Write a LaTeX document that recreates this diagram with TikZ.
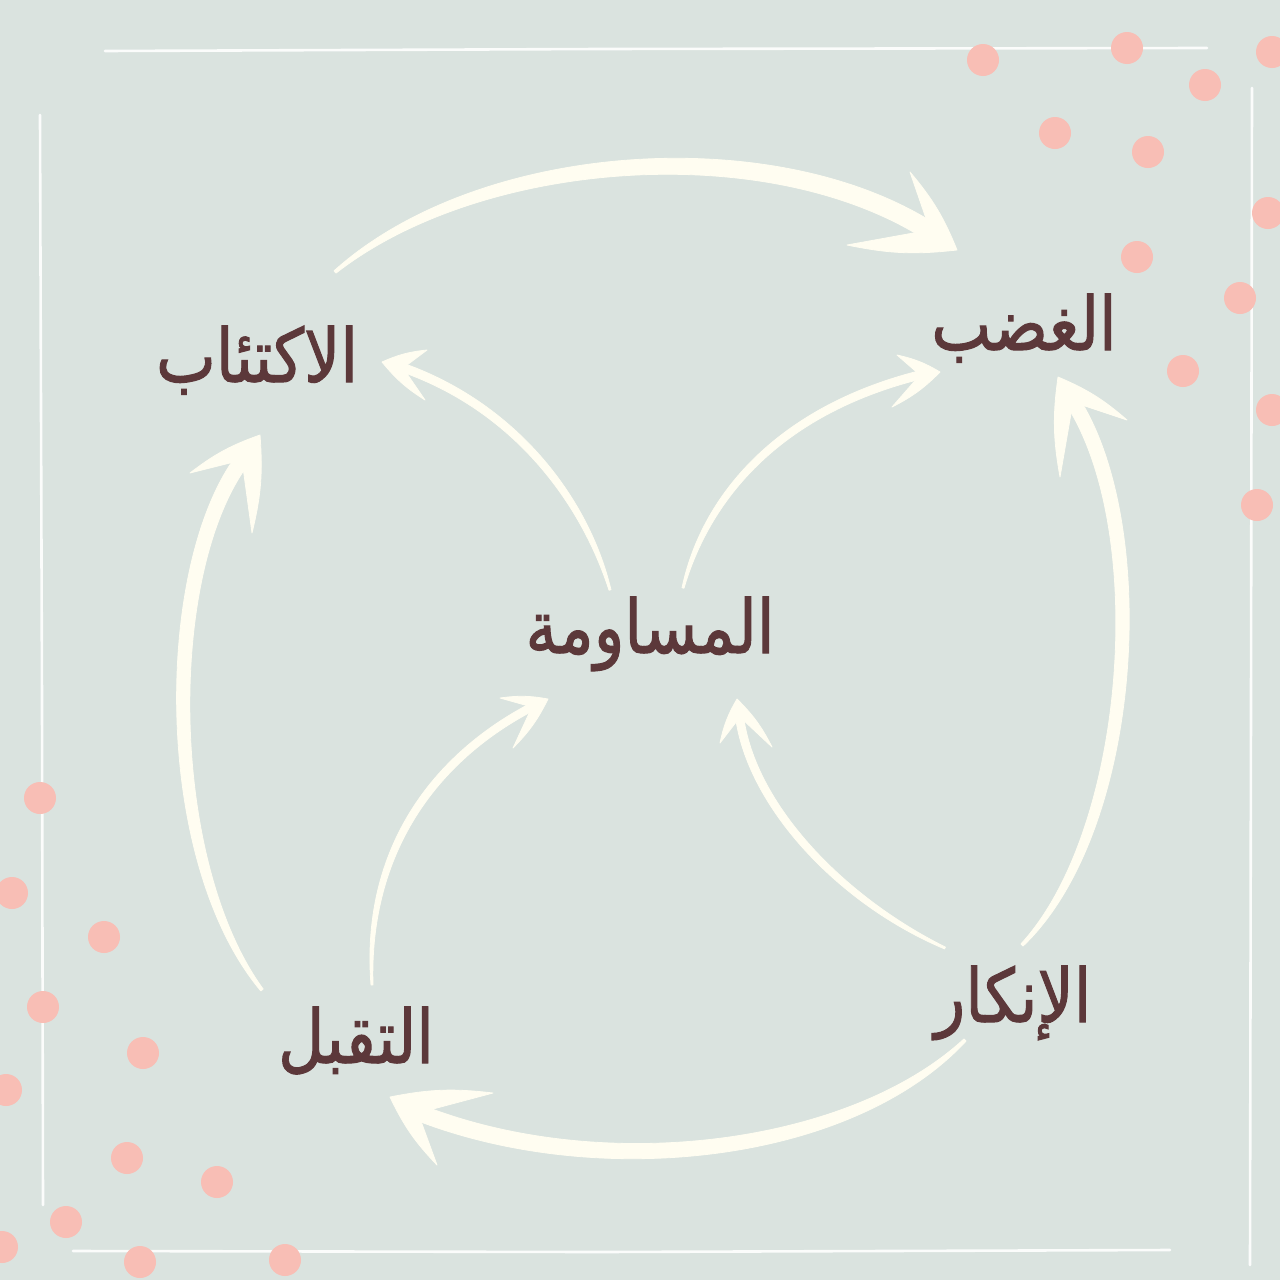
\documentclass[tikz,border=0pt]{standalone}
\usepackage{fontspec}
\usetikzlibrary{calc}
\newfontfamily\arabicfont[Script=Arabic,FakeBold=1.5]{DejaVu Sans}
\TeXXeTstate=1
\definecolor{bgc}{RGB}{218,227,223}
\definecolor{dotc}{RGB}{248,190,181}
\definecolor{txtc}{RGB}{92,56,58}
\definecolor{arrc}{RGB}{255,253,241}
\tikzset{
  lbl/.style={text=txtc, font=\arabicfont\fontsize{74}{84}\selectfont, anchor=base, inner sep=0pt},
  dotp/.style={fill=dotc},
  arrowfill/.style={fill=arrc, draw=arrc, line width=0.8pt, line join=round},
  frame/.style={draw=white, line width=2.6pt, line cap=round, opacity=0.9},
}
\newcommand\artxt[1]{\scalebox{0.86}[1]{\beginR #1\endR}}
% #1 prefix, #2 tail half width, #3 half width at c1, #4 half width at the head end (pt)
% coordinates: t (tail), c1, c2, n (notch), tip, b1 (left barb), b2 (right barb)
\newcommand\tarrow[4]{%
  \path ($(#1n)!#4pt!(#1b1)$) coordinate (#1L) ($(#1n)!#4pt!(#1b2)$) coordinate (#1R)
    ($(#1n)!0.35!(#1tip)$) coordinate (#1m)
    ($(#1L)+(#1m)-(#1n)$) coordinate (#1Le) ($(#1R)+(#1m)-(#1n)$) coordinate (#1Re)
    ($(#1c1)!#3pt!90:(#1c2)$) coordinate (#1c1L) ($(#1c1)!#3pt!-90:(#1c2)$) coordinate (#1c1R)
    ($(#1t)!#2pt!90:(#1c1)$) coordinate (#1tL) ($(#1t)!#2pt!-90:(#1c1)$) coordinate (#1tR);
  \filldraw[arrowfill] (#1tL) .. controls (#1c1L) and ($(#1c2)+(#1L)-(#1n)$) .. (#1Le)
     -- (#1Re) .. controls ($(#1c2)+(#1R)-(#1n)$) and (#1c1R) .. (#1tR) -- cycle;
  \filldraw[arrowfill] (#1tip) to[bend right=9] (#1b1) -- (#1n)
     -- (#1b2) to[bend right=9] (#1tip) -- cycle;
}
\begin{document}
\begin{tikzpicture}[x=1pt,y=-1pt]
\useasboundingbox (0,0) rectangle (1280,1280);
\fill[bgc] (0,0) rectangle (1280,1280);
% frame
\draw[frame] (105,51) -- (600,49) -- (1207,48);
\draw[frame] (1252,88) -- (1251,700) -- (1250,1265);
\draw[frame] (40,115) -- (42,700) -- (43,1205);
\draw[frame] (73,1251) -- (600,1252) -- (1170,1250);
% dots
\foreach \x/\y in {983/60,1127/48,1205/85,1272/52,1055/133,1148/152,1268/213,1137/257,1240/298,1183/371,1272/410,1257/505,
  40/798,12/893,104/937,43/1007,143/1053,6/1090,127/1158,217/1182,66/1222,2/1247,140/1262,285/1260}
  \fill[dotp] (\x,\y) circle (16);
% arrow coordinates
% A: depression -> anger (top)
\coordinate (At) at (335,272); \coordinate (Ac1) at (480,150); \coordinate (Ac2) at (780,135);
\coordinate (An) at (930,230); \coordinate (Atip) at (957,250); \coordinate (Ab1) at (910,172); \coordinate (Ab2) at (847,245);
% B: bargaining -> depression
\coordinate (Bt) at (610,590); \coordinate (Bc1) at (585,500); \coordinate (Bc2) at (510,405);
\coordinate (Bn) at (403,368); \coordinate (Btip) at (382,362); \coordinate (Bb1) at (425,400); \coordinate (Bb2) at (427,350);
% C: bargaining -> anger
\coordinate (Ct) at (683,588); \coordinate (Cc1) at (705,500); \coordinate (Cc2) at (780,410);
\coordinate (Cn) at (920,375); \coordinate (Ctip) at (940,372); \coordinate (Cb1) at (897,355); \coordinate (Cb2) at (892,407);
% D: acceptance -> depression
\coordinate (Dt) at (262,990); \coordinate (Dc1) at (160,860); \coordinate (Dc2) at (165,560);
\coordinate (Dn) at (242,460); \coordinate (Dtip) at (260,435); \coordinate (Db1) at (190,473); \coordinate (Db2) at (252,533);
% E: denial -> anger
\coordinate (Et) at (1022,945); \coordinate (Ec1) at (1135,830); \coordinate (Ec2) at (1150,520);
\coordinate (En) at (1073,402); \coordinate (Etip) at (1058,377); \coordinate (Eb1) at (1060,477); \coordinate (Eb2) at (1127,420);
% F: denial -> acceptance
\coordinate (Ft) at (965,1040); \coordinate (Fc1) at (850,1155); \coordinate (Fc2) at (590,1180);
\coordinate (Fn) at (418,1113); \coordinate (Ftip) at (390,1097); \coordinate (Fb1) at (437,1165); \coordinate (Fb2) at (493,1093);
% G: acceptance -> bargaining
\coordinate (Gt) at (372,985); \coordinate (Gc1) at (365,860); \coordinate (Gc2) at (430,760);
\coordinate (Gn) at (532,707); \coordinate (Gtip) at (548,699); \coordinate (Gb1) at (500,698); \coordinate (Gb2) at (513,748);
% H: denial -> bargaining
\coordinate (Ht) at (945,948); \coordinate (Hc1) at (840,900); \coordinate (Hc2) at (750,800);
\coordinate (Hn) at (740,717); \coordinate (Htip) at (737,699); \coordinate (Hb1) at (720,743); \coordinate (Hb2) at (772,747);
\tarrow{A}{1.5}{10}{14}
\tarrow{B}{1}{5}{6}
\tarrow{C}{1}{5}{6}
\tarrow{D}{1.5}{9}{11}
\tarrow{E}{1.5}{9}{11}
\tarrow{F}{1.5}{10}{12}
\tarrow{G}{1}{5}{6}
\tarrow{H}{1}{5}{6}
% labels
\node[lbl] (anger) at (1024,350) {\artxt{الغضب}};
\node[lbl] (depr) at (257,382) {\artxt{الاكتئاب}};
\node[lbl] (barg) at (650,653) {\artxt{المساومة}};
\node[lbl] (deny) at (1013,1022) {\artxt{الإنكار}};
\node[lbl] (acc) at (356,1063) {\artxt{التقبل}};
\end{tikzpicture}
\end{document}
